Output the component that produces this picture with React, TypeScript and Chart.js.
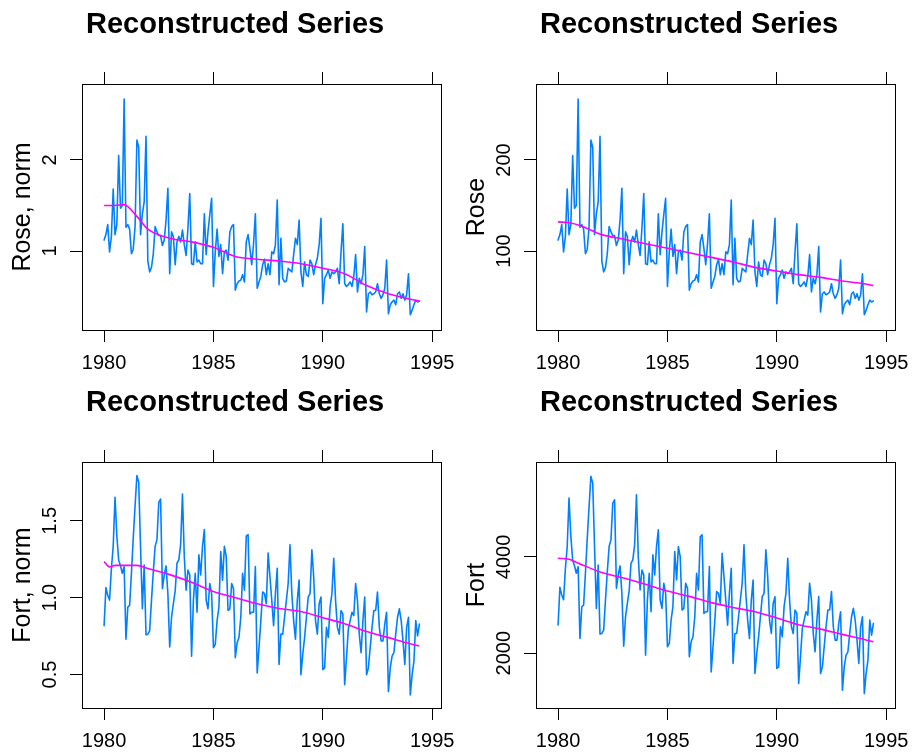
import React, { useEffect, useRef } from "react";
import { Chart, registerables } from "chart.js";

Chart.register(...registerables);

const FONT = '"Liberation Sans", Arial, Helvetica, sans-serif';
const START_YEAR = 1980;

// Monthly sales, Jan 1980 .. Jun 1994 (174 months)
const roseSales = [
  112, 118, 129, 99, 116, 168, 118, 129, 205, 147, 150, 267,
  126, 129, 124, 97, 102, 127, 222, 214, 118, 141, 154, 226,
  89, 77, 82, 97, 127, 121, 117, 117, 106, 112, 134, 169,
  75, 121, 116, 85, 110, 116, 110, 123, 107, 95, 125, 163,
  86, 85, 110, 88, 90, 86, 86, 141, 96, 121, 140, 158,
  61, 99, 124, 94, 107, 75, 99, 101, 90, 121, 127, 129,
  57, 64, 67, 68, 74, 66, 110, 118, 103, 85, 108, 141,
  59, 66, 72, 85, 91, 74, 86, 74, 99, 97, 107, 156,
  63, 114, 70, 66, 67, 81, 79, 77, 96, 114, 107, 134,
  77, 61, 88, 74, 72, 90, 86, 74, 85, 92, 107, 136,
  42, 70, 74, 79, 70, 77, 75, 77, 81, 64, 99, 130,
  64, 61, 63, 66, 61, 72, 96, 55, 70, 64, 74, 105,
  33, 53, 55, 52, 53, 55, 64, 53, 48, 52, 59, 90,
  31, 41, 44, 46, 41, 53, 55, 48, 53, 46, 52, 75,
  30, 35, 41, 46, 44, 45,
];

const fortSales = [
  2585, 3368, 3210, 3111, 3756, 4216, 5225, 4426, 3932, 3816, 3661, 3795,
  2306, 2965, 3000, 3660, 4389, 5049, 5674, 5535, 4215, 2931, 3833, 2396,
  2410, 2479, 3104, 3694, 4215, 4354, 5118, 5188, 3347, 3625, 3813, 3243,
  2146, 2757, 3035, 3299, 3868, 3938, 4250, 5292, 4007, 3313, 3729, 3625,
  1958, 3104, 3660, 2861, 4042, 3625, 4215, 4563, 3104, 2931, 3451, 3243,
  2132, 2201, 2688, 2965, 4111, 3521, 4215, 4007, 2896, 2931, 3451, 3347,
  1924, 2236, 2340, 2757, 3660, 3313, 4424, 4458, 2826, 2861, 2861, 3799,
  1611, 2132, 2688, 3278, 3243, 3035, 4076, 3590, 3104, 2583, 3243, 3764,
  1785, 2410, 2410, 2757, 3104, 3451, 4250, 3243, 2688, 2306, 3104, 3521,
  1576, 1993, 2340, 2757, 3174, 3243, 4146, 3590, 2688, 2410, 3035, 3174,
  1681, 1715, 2549, 2340, 2965, 3243, 3972, 3104, 2549, 2410, 2896, 2826,
  1368, 1924, 2514, 2688, 2861, 2792, 3451, 3104, 2410, 2028, 2688, 3174,
  1576, 1715, 2132, 2549, 2896, 2896, 3278, 2549, 2271, 2271, 2618, 2861,
  1229, 1715, 1958, 2028, 2410, 2757, 2931, 2688, 2271, 1785, 2549, 2757,
  1160, 1576, 1854, 2688, 2375, 2618,
];

// normalisation divisors
const roseNormScale = 100;
const fortNormScale = 3160;

// Trend (reconstructed) components
const roseTrendYears = [1980, 1980.5, 1981, 1982, 1983, 1984, 1985, 1986, 1987, 1988, 1989, 1990, 1991, 1992, 1993, 1994, 1994.4167];
const roseTrend = [132, 131, 128, 118, 113, 108, 103, 98, 93, 88, 82, 78, 74, 71, 67, 64, 62];

const roseNormTrendYears = [1980, 1980.5, 1980.9, 1981.5, 1982, 1983, 1984, 1985, 1986, 1987, 1988, 1989, 1990, 1991, 1992, 1993, 1994, 1994.4167];
const roseNormTrend = [1.5, 1.5, 1.51, 1.38, 1.24, 1.14, 1.1, 1.04, 0.94, 0.91, 0.89, 0.86, 0.81, 0.75, 0.62, 0.53, 0.47, 0.45];

const fortTrendYears = [1980, 1980.5, 1981, 1982, 1983, 1984, 1985, 1986, 1987, 1988, 1989, 1990, 1991, 1992, 1993, 1994, 1994.4167];
const fortTrend = [3972, 3950, 3855, 3675, 3560, 3430, 3290, 3180, 3050, 2950, 2860, 2730, 2590, 2500, 2390, 2285, 2236];

const fortNormTrendYears = [1980, 1980.25, 1980.5, 1981, 1981.5, 1982, 1983, 1984, 1985, 1986, 1987, 1988, 1989, 1990, 1991, 1992, 1993, 1994, 1994.4167];
const fortNormTrend = [1.235, 1.2, 1.21, 1.21, 1.21, 1.19, 1.15, 1.1, 1.04, 1.0, 0.96, 0.93, 0.91, 0.87, 0.83, 0.78, 0.74, 0.7, 0.685];

const xTickValues = [1980, 1985, 1990, 1995];
const xTickLabels = ["1980", "1985", "1990", "1995"];
const xRange = [1978.99, 1995.43];

const roseNormTicks = [1, 2];
const roseNormTickLabels = ["1", "2"];
const roseTicks = [100, 200];
const roseTickLabels = ["100", "200"];
const fortNormTicks = [0.5, 1.0, 1.5];
const fortNormTickLabels = ["0.5", "1.0", "1.5"];
const fortTicks = [2000, 4000];
const fortTickLabels = ["2000", "4000"];

const roseRange = [13.2, 283.5];
const roseNormRange = [0.132, 2.835];
const fortRange = [860, 5973];
const fortNormRange = [0.282, 1.883];

const titleText = "Reconstructed Series";

type Panel = {
  left: number;
  top: number;
  width: number;
  height: number;
  yLabel: string;
  series: number[];
  trendYears: number[];
  trend: number[];
  yTicks: number[];
  yTickLabels: string[];
  yRange: number[];
  yTickPad: number;
};

const panels: Panel[] = [
  {
    left: 0, top: 0, width: 464, height: 378, yLabel: "Rose, norm",
    series: roseSales.map((v) => v / roseNormScale),
    trendYears: roseNormTrendYears, trend: roseNormTrend,
    yTicks: roseNormTicks, yTickLabels: roseNormTickLabels, yRange: roseNormRange, yTickPad: 13.9,
  },
  {
    left: 454, top: 0, width: 464, height: 378, yLabel: "Rose",
    series: roseSales,
    trendYears: roseTrendYears, trend: roseTrend,
    yTicks: roseTicks, yTickLabels: roseTickLabels, yRange: roseRange, yTickPad: 2.8,
  },
  {
    left: 0, top: 378, width: 464, height: 376, yLabel: "Fort, norm",
    series: fortSales.map((v) => v / fortNormScale),
    trendYears: fortNormTrendYears, trend: fortNormTrend,
    yTicks: fortNormTicks, yTickLabels: fortNormTickLabels, yRange: fortNormRange, yTickPad: 5.6,
  },
  {
    left: 454, top: 378, width: 464, height: 376, yLabel: "Fort",
    series: fortSales,
    trendYears: fortTrendYears, trend: fortTrend,
    yTicks: fortTicks, yTickLabels: fortTickLabels, yRange: fortRange, yTickPad: -2.75,
  },
];

const AREA_LEFT = 82;
const AREA_TOP = 84;
const AREA_RIGHT = 449;
const AREA_BOTTOM = 330;
const TICK_LEN = 12;

const titlePlugin = {
  id: "panelTitle",
  afterDraw(chart: any) {
    const ctx = chart.ctx;
    ctx.save();
    ctx.font = `bold 29px ${FONT}`;
    ctx.fillStyle = "#000";
    ctx.textAlign = "left";
    ctx.textBaseline = "alphabetic";
    ctx.fillText(titleText, 86, 33);
    ctx.restore();
  },
};

function PanelChart({ p }: { p: Panel }) {
  const ref = useRef<HTMLCanvasElement | null>(null);
  useEffect(() => {
    if (!ref.current) return;
    const seriesPts = p.series.map((v, i) => ({ x: START_YEAR + i / 12, y: v }));
    const trendPts = p.trendYears.map((x, i) => ({ x, y: p.trend[i] }));
    const gridOpts = {
      display: true,
      drawOnChartArea: false,
      drawTicks: true,
      tickLength: TICK_LEN,
      color: "#000",
      lineWidth: 1,
    };
    const borderOpts = { display: true, color: "#000", width: 1 };
    const chart = new Chart(ref.current, {
      type: "line",
      data: {
        datasets: [
          {
            data: trendPts,
            borderColor: "#ff00ff",
            borderWidth: 1.6,
            pointRadius: 0,
            cubicInterpolationMode: "monotone",
            borderJoinStyle: "round",
            order: 0,
          },
          {
            data: seriesPts,
            borderColor: "#0080ff",
            borderWidth: 1.6,
            pointRadius: 0,
            tension: 0,
            borderJoinStyle: "round",
            borderCapStyle: "round",
            order: 1,
          },
        ],
      } as any,
      options: {
        animation: false,
        responsive: false,
        devicePixelRatio: 1,
        layout: { autoPadding: false, padding: { left: 0, top: 0, right: p.width - AREA_RIGHT, bottom: 0 } },
        plugins: { legend: { display: false }, tooltip: { enabled: false }, title: { display: false } },
        scales: {
          x: {
            type: "linear",
            position: "bottom",
            min: xRange[0],
            max: xRange[1],
            afterBuildTicks: (s: any) => { s.ticks = xTickValues.map((v) => ({ value: v })); },
            afterFit: (s: any) => { s.height = p.height - AREA_BOTTOM; },
            grid: gridOpts,
            border: borderOpts,
            ticks: {
              color: "#000",
              font: { family: FONT, size: 20, lineHeight: 1.2 },
              padding: 9,
              minRotation: 0,
              maxRotation: 0,
              autoSkip: false,
              callback: (_v: any, i: number) => xTickLabels[i],
            },
          },
          x2: {
            type: "linear",
            axis: "x",
            position: "top",
            min: xRange[0],
            max: xRange[1],
            afterBuildTicks: (s: any) => { s.ticks = xTickValues.map((v) => ({ value: v })); },
            afterFit: (s: any) => { s.height = AREA_TOP; },
            grid: gridOpts,
            border: borderOpts,
            ticks: { display: false },
          },
          y: {
            type: "linear",
            position: "left",
            min: p.yRange[0],
            max: p.yRange[1],
            afterBuildTicks: (s: any) => { s.ticks = p.yTicks.map((v) => ({ value: v })); },
            afterFit: (s: any) => { s.width = AREA_LEFT; },
            grid: gridOpts,
            border: borderOpts,
            ticks: {
              color: "#000",
              font: { family: FONT, size: 20, lineHeight: 1.2 },
              padding: p.yTickPad,
              minRotation: 90,
              maxRotation: 90,
              crossAlign: "center",
              autoSkip: false,
              callback: (_v: any, i: number) => p.yTickLabels[i],
            },
            title: {
              display: true,
              text: p.yLabel,
              color: "#000",
              font: { family: FONT, size: 25, lineHeight: 1.2 },
              padding: { top: 8, bottom: 0 },
            },
          },
          y2: {
            type: "linear",
            axis: "y",
            position: "right",
            min: p.yRange[0],
            max: p.yRange[1],
            afterBuildTicks: (s: any) => { s.ticks = []; },
            afterFit: (s: any) => { s.width = 0; },
            grid: { display: true, drawOnChartArea: false, drawTicks: false, color: "#000" },
            border: borderOpts,
            ticks: { display: false },
          },
        },
      } as any,
      plugins: [titlePlugin],
    });
    return () => chart.destroy();
  }, [p]);
  return (
    <canvas
      ref={ref}
      width={p.width}
      height={p.height}
      style={{ position: "absolute", left: p.left, top: p.top, width: p.width, height: p.height, display: "block" }}
    />
  );
}

export default function App() {
  return (
    <div style={{ position: "absolute", left: 0, top: 0, width: 918, height: 754, background: "#fff", overflow: "hidden" }}>
      {panels.map((p, i) => (
        <PanelChart key={i} p={p} />
      ))}
    </div>
  );
}
